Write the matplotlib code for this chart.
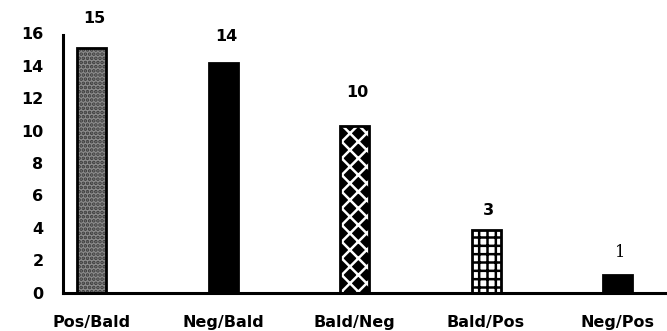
import matplotlib
matplotlib.use("Agg")
import matplotlib.pyplot as plt

categories = ["Pos/Bald", "Neg/Bald", "Bald/Neg", "Bald/Pos", "Neg/Pos"]
bar_heights = [15.1, 14.15, 10.3, 3.9, 1.1]
value_labels = ["15", "14", "10", "3", "1"]
yticks = [0, 2, 4, 6, 8, 10, 12, 14, 16]

plt.rcParams['hatch.linewidth'] = 1.8
fig = plt.figure(figsize=(6.67, 3.31), dpi=100)
ax = fig.add_axes([0.0945, 0.115, 0.9055, 0.785])

x = list(range(len(categories)))
w = 0.22
styles = [
    dict(facecolor="#8c8c8c", edgecolor="#3a3a3a", hatch="...."),
    dict(facecolor="black", edgecolor="black", hatch=None),
    dict(facecolor="black", edgecolor="white", hatch="xx"),
    dict(facecolor="white", edgecolor="black", hatch="++"),
    dict(facecolor="black", edgecolor="black", hatch=None),
]
for i, (xi, h) in enumerate(zip(x, bar_heights)):
    s = styles[i]
    ax.bar(xi, h, width=w, color=s["facecolor"], edgecolor=s["edgecolor"],
           hatch=s["hatch"], linewidth=0, zorder=2)
    ax.bar(xi, h, width=w, fill=False, edgecolor="black", linewidth=2, zorder=3)

offsets = [21, 19, 24, 14, 16]
for i, (xi, h, lab) in enumerate(zip(x, bar_heights, value_labels)):
    fw = "normal" if lab == "1" else "bold"
    fam = "DejaVu Serif" if lab == "1" else "DejaVu Sans"
    ax.annotate(lab, (xi, h), xytext=(2, offsets[i]), textcoords="offset points",
                ha="center", va="center", fontsize=11.5, fontweight=fw, family=fam)

ax.set_xlim(-0.217, 4.376)
ax.set_ylim(0, 16)
ax.set_yticks(yticks)
ax.set_yticklabels([str(t) for t in yticks], fontsize=11.5, fontweight="bold")
ax.set_xticks(x)
ax.set_xticklabels(categories, fontsize=11.5, fontweight="bold")
ax.tick_params(axis="y", length=0, pad=14)
ax.tick_params(axis="x", length=0, pad=16)
for sp in ["top", "right"]:
    ax.spines[sp].set_visible(False)
ax.spines["left"].set_linewidth(2.2)
ax.spines["bottom"].set_linewidth(2.2)
ax.spines["left"].set_bounds(0, 15.9)

fig.savefig("out.png", dpi=100)
